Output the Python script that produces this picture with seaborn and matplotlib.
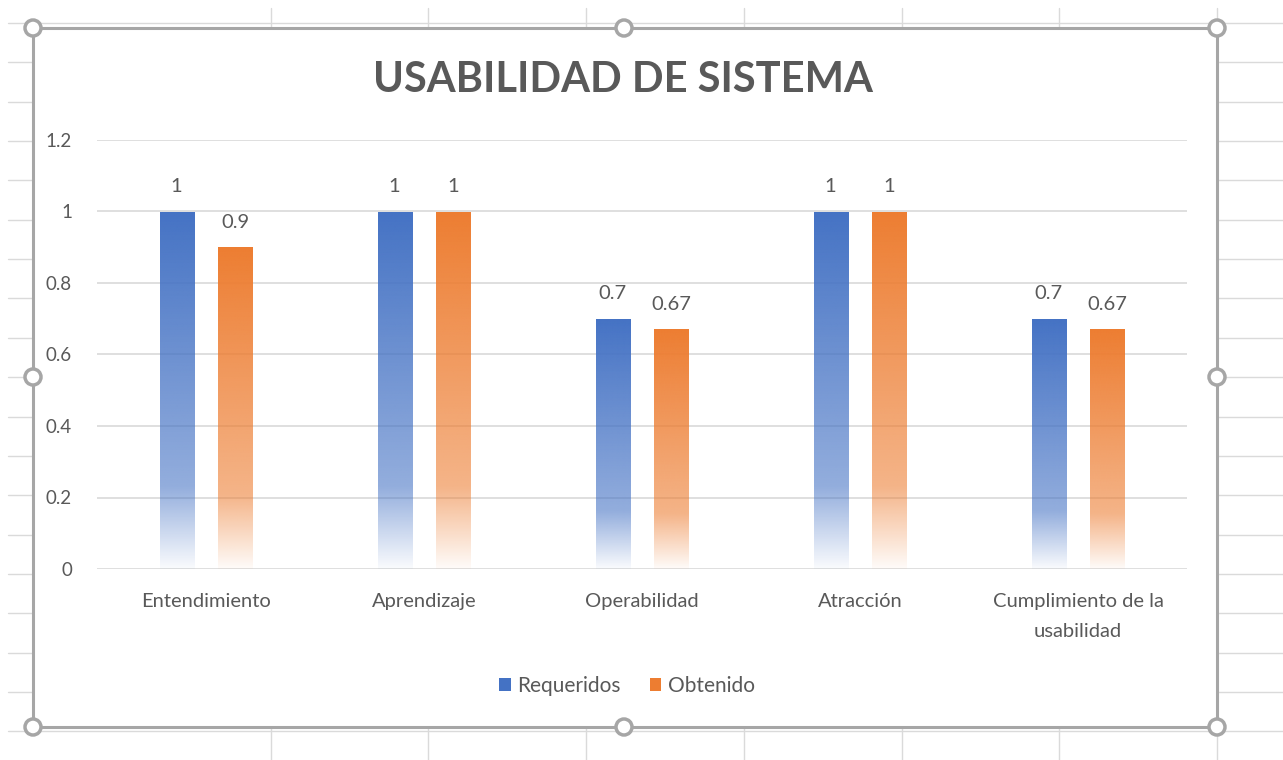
import numpy as np
import pandas as pd
import seaborn as sns
import matplotlib.pyplot as plt
from matplotlib.patches import Rectangle, Circle, Patch
from matplotlib.colors import to_rgb

categorias = ['Entendimiento', 'Aprendizaje', 'Operabilidad', 'Atracción',
              'Cumplimiento de la\nusabilidad']
requeridos = [1, 1, 0.7, 1, 0.7]
obtenido = [0.9, 1, 0.67, 1, 0.67]
series = ['Requeridos', 'Obtenido']
colores = ['#4472C4', '#ED7D31']
titulo = 'USABILIDAD DE SISTEMA'

df = pd.DataFrame({
    'categoria': categorias * 2,
    'serie': ['Requeridos'] * len(categorias) + ['Obtenido'] * len(categorias),
    'valor': requeridos + obtenido,
})

sns.set_theme(style='white')
plt.rcParams['font.family'] = ['Lato', 'DejaVu Sans']
gris = '#595959'

W, H = 1283, 760
fig = plt.figure(figsize=(W / 100, H / 100), dpi=100)

# fondo tipo hoja de calculo
bg = fig.add_axes([0, 0, 1, 1], zorder=0)
bg.set_xlim(0, W)
bg.set_ylim(H, 0)
bg.axis('off')
for yy in np.arange(23, 740, 39.35):
    bg.plot([8, W], [yy, yy], color='#DADADA', lw=1, zorder=1)
for xx in [271, 428, 586, 744, 902, 1059, 1217]:
    bg.plot([xx, xx], [8, H], color='#DADADA', lw=1, zorder=1)
bg.add_patch(Rectangle((33, 28), 1184, 699, facecolor='white',
                       edgecolor='#A6A6A6', lw=2.2, zorder=2))
for cx in [33, 624, 1217]:
    for cy in [28, 377, 727]:
        if cx == 624 and cy == 377:
            continue
        bg.add_patch(Circle((cx, cy), 8, facecolor='white',
                            edgecolor='#A6A6A6', lw=2.5, zorder=3))

ax = fig.add_axes([97 / W, (H - 569) / H, 1090 / W, (569 - 140) / H], zorder=1)
ax.set_facecolor('none')
sns.barplot(data=df, x='categoria', y='valor', hue='serie', hue_order=series,
            palette=colores, width=0.54, gap=0.42, ax=ax, legend=False)

# relleno degradado como en Excel
t = np.linspace(0, 1, 256)
alpha = np.where(t < 0.77, 1 - 0.42 * t / 0.77, 0.58 - 0.55 * (t - 0.77) / 0.23)
for i, bar in enumerate(ax.patches):
    col = to_rgb(colores[i // len(categorias)])
    img = np.ones((256, 1, 4))
    img[:, 0, :3] = col
    img[:, 0, 3] = alpha
    x0, y0 = bar.get_x(), bar.get_y()
    w, h = bar.get_width(), bar.get_height()
    bar.set_facecolor('none')
    bar.set_edgecolor('none')
    im = ax.imshow(img, extent=[x0, x0 + w, y0, y0 + h], aspect='auto',
                   origin='upper', zorder=2, interpolation='bilinear')
    im.set_clip_path(bar)

for cont in ax.containers:
    ax.bar_label(cont, labels=[f'{v:g}' for v in cont.datavalues],
                 padding=12, fontsize=14.5, color=gris)

ax.set_xlim(-0.5, len(categorias) - 0.5)
ax.set_ylim(0, 1.2)
ax.set_yticks(np.arange(0, 1.21, 0.2))
ax.set_yticklabels(['0', '0.2', '0.4', '0.6', '0.8', '1', '1.2'])
ax.yaxis.grid(True, color='#D9D9D9', lw=1.2)
ax.set_axisbelow(True)
for s in ax.spines.values():
    s.set_visible(False)
ax.tick_params(axis='y', length=0, pad=18, labelsize=13.5, labelcolor=gris)
ax.tick_params(axis='x', length=0, pad=17, labelsize=14.5, labelcolor=gris)
for lab in ax.get_xticklabels():
    lab.set_linespacing(1.95)
ax.set_xlabel('')
ax.set_ylabel('')

fig.text(623 / W, 1 - 80 / H, titulo, ha='center', va='center',
         fontsize=30, fontweight='bold', color=gris)

handles = [Patch(facecolor=c, edgecolor='none') for c in colores]
fig.legend(handles, series, loc='center', bbox_to_anchor=(627 / W, 1 - 686 / H),
           ncol=2, frameon=False, fontsize=15, labelcolor=gris,
           handlelength=0.55, handleheight=0.55, handletextpad=0.3,
           columnspacing=1.4)

fig.savefig('out.png', dpi=100)
